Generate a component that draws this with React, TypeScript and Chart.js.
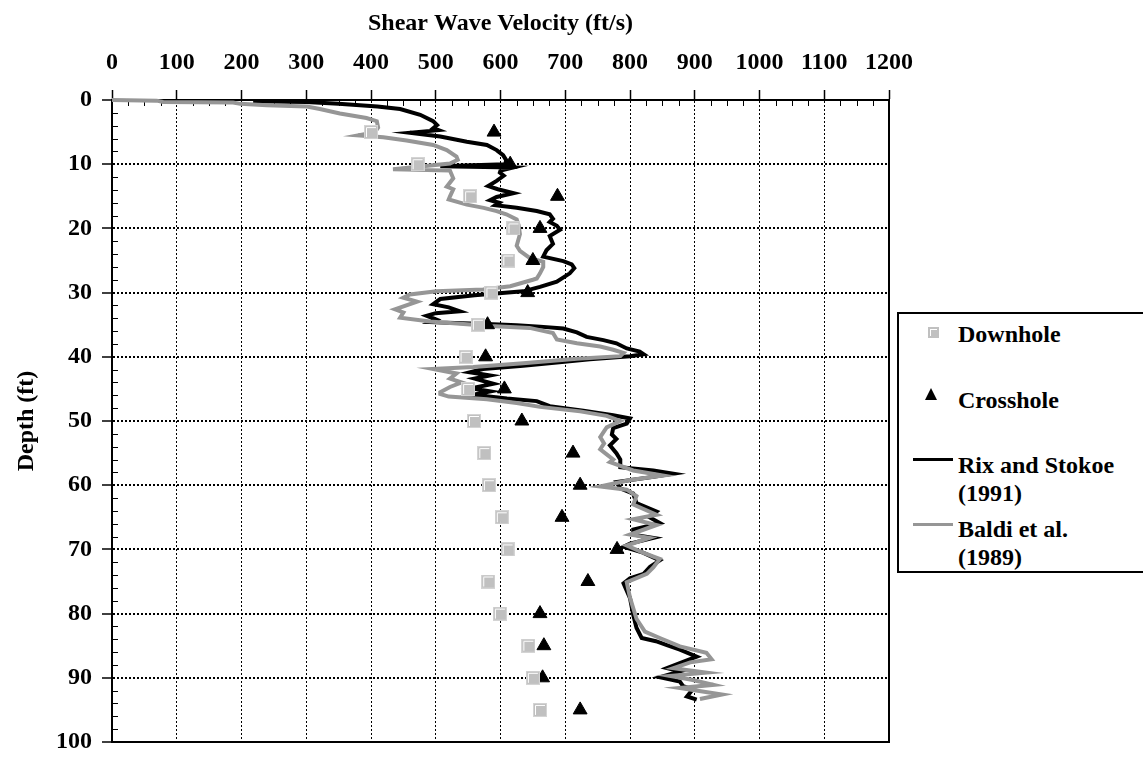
import React, { useEffect, useRef } from "react";
import { Chart, registerables } from "chart.js";

Chart.register(...registerables);

// ---------- data ----------
const stationDepth = [5, 10, 15, 20, 25, 30, 35, 40, 45, 50, 55, 60, 65, 70, 75, 80, 85, 90, 95];
const downholeVelocity = [400, 472, 553, 620, 612, 586, 565, 546, 550, 559, 575, 582, 602, 611, 581, 599, 643, 650, 661];
const crossholeVelocity = [590, 615, 688, 661, 650, 642, 580, 577, 606, 633, 712, 723, 695, 780, 735, 661, 667, 665, 723];

const rixVelocity = [
  218, 300, 350, 410, 445, 476, 496, 502, 496, 504, 460, 507, 548, 579, 594, 604, 609, 607, 507, 620,
  600, 599, 605, 594, 581, 596, 620, 594, 584, 598, 592, 625, 656, 676, 681, 676, 687, 692, 676, 681,
  671, 666, 697, 710, 714, 707, 687, 661, 635, 560, 507, 496, 520, 537, 500, 486, 501, 492, 579, 625,
  661, 697, 718, 733, 759, 779, 795, 815, 821, 800, 738, 687, 635, 573, 553, 584, 560, 589, 555, 584,
  558, 610, 656, 676, 728, 774, 800, 795, 774, 772, 779, 769, 779, 785, 785, 836, 867, 836, 779, 785,
  805, 810, 841, 830, 846, 805, 805, 836, 800, 790, 820, 846, 831, 821, 800, 790, 800, 805, 810, 818,
  840, 857, 877, 903, 877, 857, 877, 846, 877, 882, 897, 888, 903,
];
const rixDepth = [
  0.2, 0.3, 0.6, 1.0, 1.4, 2.3, 3.3, 3.9, 4.4, 4.7, 5.1, 5.7, 6.5, 7.0, 7.8, 8.6, 9.4, 10.0, 10.3, 10.5,
  11.0, 11.3, 11.8, 12.6, 13.4, 13.9, 14.5, 15.1, 15.6, 16.0, 16.4, 16.8, 17.3, 17.8, 18.5, 19.0, 19.6, 20.2, 21.2, 22.4,
  23.4, 24.4, 25.1, 25.6, 26.2, 27.0, 28.3, 29.1, 29.8, 30.4, 31.0, 31.8, 32.3, 32.9, 33.2, 33.6, 34.2, 34.6, 34.9, 35.1,
  35.3, 35.6, 36.2, 36.9, 37.4, 37.9, 38.7, 39.2, 39.6, 39.9, 40.4, 40.9, 41.4, 41.9, 42.4, 42.9, 43.4, 44.2, 44.9, 45.4,
  45.9, 46.5, 46.9, 47.7, 48.4, 49.1, 49.6, 50.4, 51.1, 52.1, 52.8, 53.8, 55.0, 56.0, 57.2, 57.7, 58.2, 58.7, 59.5, 60.5,
  61.3, 62.8, 64.1, 65.0, 65.9, 66.9, 67.7, 68.2, 69.1, 69.6, 70.5, 71.7, 72.7, 73.8, 74.5, 75.3, 77.6, 80.2, 82.2, 83.8,
  84.3, 84.9, 85.6, 86.7, 87.7, 88.5, 89.0, 89.9, 90.6, 91.3, 91.8, 92.9, 93.4,
];

const baldiVelocity = [
  0, 69, 79, 187, 198, 239, 301, 321, 352, 393, 409, 411, 406, 380, 419, 455, 496, 517, 532, 534,
  522, 434, 522, 527, 517, 527, 522, 520, 548, 574, 594, 609, 625, 628, 630, 625, 630, 645, 666, 666,
  661, 656, 650, 615, 573, 501, 460, 450, 471, 437, 450, 445, 491, 584, 645, 681, 687, 718, 754, 774,
  790, 785, 718, 635, 558, 496, 532, 522, 540, 522, 507, 507, 520, 579, 625, 661, 723, 764, 785, 764,
  754, 760, 754, 764, 774, 769, 805, 851, 800, 754, 795, 810, 805, 841, 805, 841, 800, 830, 795, 820,
  846, 836, 826, 795, 800, 810, 823, 846, 877, 918, 926, 893, 867, 918, 862, 895, 929, 877, 942, 908,
];
const baldiDepth = [
  0.0, 0.1, 0.3, 0.4, 0.6, 0.8, 1.0, 1.4, 2.1, 2.8, 3.3, 4.3, 5.0, 5.5, 5.8, 6.3, 7.0, 7.8, 8.8, 9.3,
  9.9, 10.8, 11.0, 12.2, 13.5, 13.9, 15.0, 15.5, 16.3, 16.8, 17.3, 17.8, 18.6, 19.5, 20.9, 22.7, 23.5, 24.6, 25.2, 26.0,
  27.0, 27.8, 28.0, 29.0, 29.5, 29.8, 30.3, 30.8, 31.4, 32.6, 33.1, 33.9, 34.5, 35.2, 35.5, 36.3, 37.3, 37.9, 38.4, 38.9,
  39.4, 39.9, 40.3, 41.0, 41.6, 41.9, 42.6, 43.4, 44.0, 44.7, 45.5, 45.8, 46.2, 46.6, 47.2, 47.8, 48.5, 49.2, 50.0, 51.0,
  52.5, 53.5, 54.4, 55.2, 56.0, 56.4, 57.7, 58.5, 59.2, 60.2, 60.7, 61.7, 63.0, 64.6, 65.3, 66.2, 67.7, 68.2, 69.4, 70.5,
  71.5, 72.8, 73.8, 75.1, 77.5, 80.8, 82.8, 83.8, 85.1, 86.1, 87.1, 87.6, 88.5, 89.2, 89.7, 90.3, 91.1, 91.6, 92.6, 93.3,
];

const xTitle = "Shear Wave Velocity (ft/s)";
const yTitle = "Depth (ft)";
const seriesNames = ["Downhole", "Crosshole", "Rix and Stokoe (1991)", "Baldi et al. (1989)"];

// ---------- helpers ----------
const FONT_FAMILY = "'Liberation Serif', 'Times New Roman', serif";
const toPoints = (xs: number[], ys: number[]) => xs.map((x, i) => ({ x, y: ys[i] }));

function makeSquare(size: number): HTMLCanvasElement {
  const c = document.createElement("canvas");
  c.width = size;
  c.height = size;
  const g = c.getContext("2d")!;
  g.fillStyle = "#d4d4d4";
  g.fillRect(0, 0, size, size);
  g.fillStyle = "#c0c0c0";
  g.fillRect(1, 1, size - 2, size - 2);
  g.strokeStyle = "#ffffff";
  g.lineWidth = 1;
  g.beginPath();
  g.moveTo(2.5, size - 2);
  g.lineTo(2.5, 2.5);
  g.lineTo(size - 2, 2.5);
  g.stroke();
  return c;
}

const framePlugin = {
  id: "frameMinor",
  beforeDatasetsDraw(chart: any) {
    const { ctx, chartArea: a, scales } = chart;
    const xs = scales.x;
    const ys = scales.y;
    ctx.save();
    ctx.strokeStyle = "#000";
    ctx.lineWidth = 1;
    ctx.setLineDash([]);
    ctx.beginPath();
    for (let v = xs.min + 25; v < xs.max; v += 25) {
      if (v % 100 === 0) continue;
      const px = Math.round(xs.getPixelForValue(v)) + 0.5;
      ctx.moveTo(px, a.top);
      ctx.lineTo(px, a.top + 6);
    }
    for (let d = ys.min + 2; d < ys.max; d += 2) {
      if (d % 10 === 0) continue;
      const py = Math.round(ys.getPixelForValue(d)) + 0.5;
      ctx.moveTo(a.left, py);
      ctx.lineTo(a.left + 6, py);
    }
    ctx.stroke();
    ctx.lineWidth = 2;
    ctx.strokeRect(a.left, a.top, a.right - a.left, a.bottom - a.top);
    ctx.restore();
  },
};

export default function App() {
  const ref = useRef<HTMLCanvasElement>(null);

  useEffect(() => {
    const canvas = ref.current!;
    const square = makeSquare(14);
    const tickFont = { family: FONT_FAMILY, size: 24, weight: "bold" as const, lineHeight: 1 };
    const titleFont = { family: FONT_FAMILY, size: 24, weight: "bold" as const, lineHeight: 1.2 };
    const plain = (v: any) => String(v);

    const chart = new Chart(canvas, {
      type: "scatter",
      data: {
        datasets: [
          {
            label: seriesNames[0],
            data: toPoints(downholeVelocity, stationDepth),
            pointStyle: square as any,
            pointRadius: 6,
            showLine: false,
            order: 0,
          },
          {
            label: seriesNames[1],
            data: toPoints(crossholeVelocity, stationDepth),
            pointStyle: "triangle",
            pointRadius: 8,
            backgroundColor: "#000",
            borderColor: "#000",
            borderWidth: 1,
            showLine: false,
            order: 1,
          },
          {
            label: seriesNames[2],
            data: toPoints(rixVelocity, rixDepth),
            showLine: true,
            borderColor: "#000",
            backgroundColor: "#000",
            borderWidth: 4,
            pointRadius: 0,
            tension: 0,
            clip: 4,
            order: 3,
          },
          {
            label: seriesNames[3],
            data: toPoints(baldiVelocity, baldiDepth),
            showLine: true,
            borderColor: "#969696",
            backgroundColor: "#969696",
            borderWidth: 4,
            pointRadius: 0,
            tension: 0,
            clip: 4,
            order: 2,
          },
        ],
      },
      options: {
        responsive: false,
        animation: false,
        devicePixelRatio: 1,
        layout: { padding: { left: 0, top: 0, right: 254, bottom: 20 } },
        plugins: {
          legend: { display: false },
          tooltip: { enabled: false },
        },
        scales: {
          x: {
            type: "linear",
            position: "top",
            min: 0,
            max: 1200,
            ticks: {
              stepSize: 100,
              color: "#000",
              font: tickFont,
              padding: 15,
              maxRotation: 0,
              autoSkip: false,
              callback: plain,
            },
            grid: { color: "#000", lineWidth: 1, tickLength: 10, tickColor: "#000", tickWidth: 1.5, tickBorderDash: [] },
            border: { display: true, color: "#000", width: 2, dash: [2, 2] },
            title: { display: true, text: xTitle, color: "#000", font: titleFont, padding: { top: 9, bottom: 0 } },
            afterFit: (s: any) => {
              s.height = 100;
            },
          },
          y: {
            type: "linear",
            position: "left",
            reverse: true,
            min: 0,
            max: 100,
            ticks: { stepSize: 10, color: "#000", font: tickFont, padding: 10, autoSkip: false, callback: plain },
            grid: { color: "#000", lineWidth: 2, tickLength: 10, tickColor: "#000", tickWidth: 1.5, tickBorderDash: [] },
            border: { display: true, color: "#000", width: 2, dash: [2, 2] },
            title: { display: true, text: yTitle, color: "#000", font: titleFont, padding: { top: 12, bottom: 0 } },
            afterFit: (s: any) => {
              s.width = 112;
            },
          },
        },
      },
      plugins: [framePlugin],
    });
    return () => chart.destroy();
  }, []);

  const legendText: React.CSSProperties = {
    position: "absolute",
    left: 59,
    whiteSpace: "nowrap",
    fontFamily: FONT_FAMILY,
    fontWeight: "bold",
    fontSize: 24,
    lineHeight: "28px",
    color: "#000",
  };

  return (
    <div
      style={{
        position: "fixed",
        left: 0,
        top: 0,
        width: 1143,
        height: 764,
        overflow: "hidden",
        background: "#fff",
      }}
    >
      <canvas ref={ref} width={1143} height={764} style={{ display: "block", width: 1143, height: 764 }} />
      <div
        style={{
          position: "absolute",
          left: 897,
          top: 312,
          width: 300,
          height: 261,
          border: "2px solid #000",
          boxSizing: "border-box",
          background: "#fff",
        }}
      >
        <div style={{ position: "absolute", left: 29, top: 13, width: 11, height: 11, background: "#c0c0c0" }}>
          <div
            style={{
              position: "absolute",
              left: 2,
              top: 2,
              width: 7,
              height: 7,
              borderLeft: "1px solid #fff",
              borderTop: "1px solid #fff",
              boxSizing: "border-box",
            }}
          />
        </div>
        <div style={{ ...legendText, top: 6 }}>{seriesNames[0]}</div>

        <div
          style={{
            position: "absolute",
            left: 26,
            top: 74,
            width: 0,
            height: 0,
            borderLeft: "6.5px solid transparent",
            borderRight: "6.5px solid transparent",
            borderBottom: "12px solid #000",
          }}
        />
        <div style={{ ...legendText, top: 72 }}>{seriesNames[1]}</div>

        <div style={{ position: "absolute", left: 14, top: 144, width: 40, height: 3, background: "#000" }} />
        <div style={{ ...legendText, top: 137 }}>
          Rix and Stokoe
          <br />
          (1991)
        </div>

        <div style={{ position: "absolute", left: 14, top: 209, width: 40, height: 3, background: "#969696" }} />
        <div style={{ ...legendText, top: 201 }}>
          Baldi et al.
          <br />
          (1989)
        </div>
      </div>
    </div>
  );
}
